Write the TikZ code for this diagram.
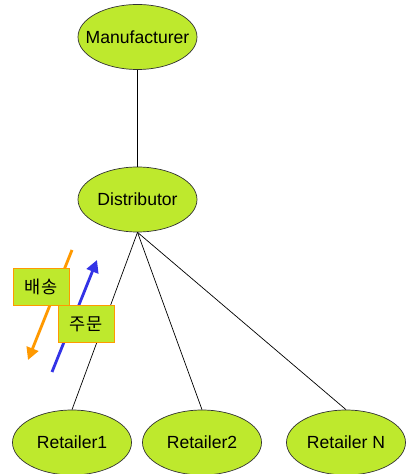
\documentclass[tikz,border=0pt]{standalone}
\usepackage{fontspec}
\setmainfont{Liberation Sans}
\newfontfamily\kor{Noto Sans CJK KR}
\usetikzlibrary{positioning,arrows.meta,shapes.geometric}
\definecolor{lime}{RGB}{190,233,45}
\definecolor{flow}{RGB}{255,153,0}
\definecolor{order}{RGB}{51,51,230}
\tikzset{
party/.style={ellipse,draw=black!80,fill=lime,minimum width=2.38cm,minimum height=1.3cm,inner xsep=-0.3cm,inner ysep=0pt,font=\fontsize{10}{12}\selectfont},
tag/.style={rectangle,draw=flow,fill=lime,minimum width=1.12cm,minimum height=0.74cm,inner sep=0pt,font=\kor\fontsize{10}{12}\selectfont},
flowarrow/.style={line width=1.6pt,-{Triangle[length=7pt,width=7pt]}}
}
\begin{document}
\begin{tikzpicture}[on grid]
\useasboundingbox (0,0) rectangle (8.1,-9.48);
\node[party](manu) at (2.75,-0.74) {Manufacturer};
\node[party,below=3.25cm of manu](dist) {Distributor};
\node[party,below left=4.86cm and 1.31cm of dist](ret1) {Retailer1};
\node[party,below right=4.86cm and 1.29cm of dist](ret2) {Retailer2};
\node[party,below right=4.86cm and 4.17cm of dist](retn) {Retailer N};
\draw (manu)--(dist);
\draw (dist.south)--(ret1.north);
\draw (dist.south)--(ret2.north);
\draw (dist.south)--(retn.north);
% ship down, order up
\coordinate (s1) at (1.44,-5.00);
\coordinate (s2) at (0.56,-7.20);
\coordinate (o1) at (1.04,-7.44);
\coordinate (o2) at (1.94,-5.20);
\draw[flowarrow,flow] (s1)--(s2);
\draw[flowarrow,order] (o1)--(o2);
\node[tag](ship) at (0.82,-5.74) {배송};
\node[tag](ord) at (1.72,-6.48) {주문};
\end{tikzpicture}
\end{document}
